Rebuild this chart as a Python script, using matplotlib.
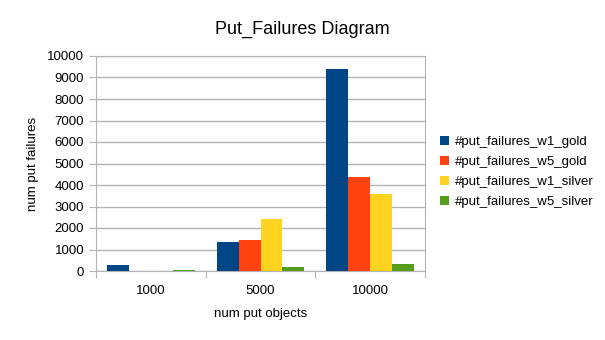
import numpy as np
import matplotlib
matplotlib.use('Agg')
import matplotlib.pyplot as plt

plt.rcParams['font.family'] = ['Liberation Sans', 'DejaVu Sans']

categories = ['1000', '5000', '10000']
series_names = ['#put_failures_w1_gold', '#put_failures_w5_gold',
                '#put_failures_w1_silver', '#put_failures_w5_silver']
w1_gold = [280, 1350, 9400]
w5_gold = [0, 1450, 4350]
w1_silver = [10, 2420, 3560]
w5_silver = [25, 180, 310]
colors = ['#004586', '#ff420e', '#ffd320', '#579d1c']

fig = plt.figure(figsize=(6.05, 3.4), dpi=100)
ax = fig.add_axes([96/605, 1-271/340, (425-96)/605, (271-56)/340])

x = np.arange(len(categories))
width = 0.2
for i, (vals, name) in enumerate(zip([w1_gold, w5_gold, w1_silver, w5_silver], series_names)):
    ax.bar(x + (i - 1.5) * width, vals, width, color=colors[i], label=name, zorder=3)

ax.set_xlim(-0.5, 2.5)
ax.set_ylim(0, 10000)
ax.set_yticks(range(0, 10001, 1000))
ax.yaxis.grid(True, color='#b3b3b3', linewidth=1, zorder=0)
for s in ax.spines.values():
    s.set_color('#b3b3b3')
ax.set_xticks([-0.5, 0.5, 1.5, 2.5])
ax.set_xticklabels([])
ax.set_xticks(x, minor=True)
ax.set_xticklabels(categories, minor=True)
ax.tick_params(axis='x', which='minor', length=0, pad=10, labelsize=9.5)
ax.tick_params(axis='x', which='major', length=5, color='#b3b3b3')
ax.tick_params(axis='y', length=5, color='#b3b3b3', labelsize=9.5)

ax.set_xlabel('num put objects', fontsize=9.5, labelpad=8)
ax.set_ylabel('num put failures', fontsize=9.5, labelpad=6)
fig.suptitle('Put_Failures Diagram', fontsize=13, y=0.94)

ax.legend(loc='center left', bbox_to_anchor=(1.01, 0.46), frameon=False,
          fontsize=9.5, handlelength=0.7, handleheight=0.7, handletextpad=0.4,
          labelspacing=0.6)

fig.savefig('out.png', dpi=100)
